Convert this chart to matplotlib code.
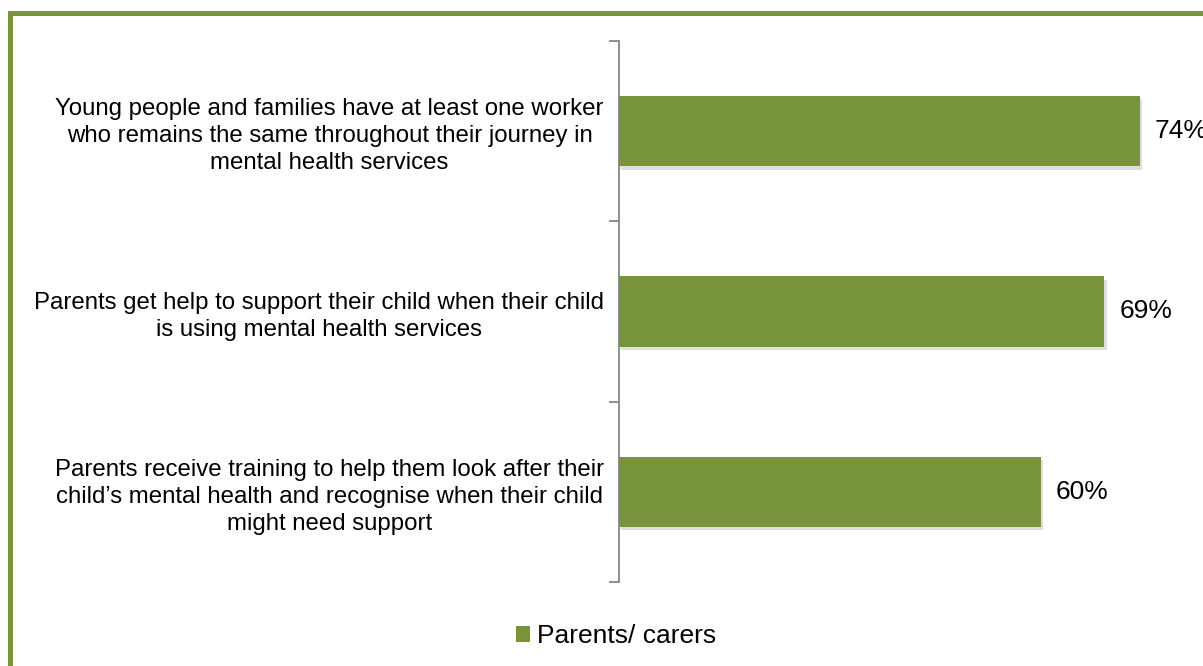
import matplotlib.pyplot as plt
import matplotlib.patheffects as pe
from matplotlib.patches import Rectangle

plt.rcParams['font.family'] = ['Liberation Sans', 'DejaVu Sans']

categories = [
    "Young people and families have at least one worker\nwho remains the same throughout their journey in\nmental health services",
    "Parents get help to support their child when their child\nis using mental health services",
    "Parents receive training to help them look after their\nchild\u2019s mental health and recognise when their child\nmight need support",
]
values = [74, 69, 60]
series_name = "Parents/ carers"

green = "#77933C"
fs = 17.3
fs_big = 19

fig = plt.figure(figsize=(12.03, 6.66), dpi=100)

# olive frame round the chart area (runs off the right and bottom edges)
fig.patches.append(Rectangle((9.5 / 1203, -0.05), 1.2, 1.05 - 13 / 666,
                             transform=fig.transFigure, fill=False,
                             edgecolor=green, linewidth=3.6))

ax = fig.add_axes([619 / 1203, 1 - 582 / 666, 1 - 619 / 1203, (582 - 41) / 666])

ypos = list(range(len(values)))[::-1]
bars = ax.barh(ypos, values, height=0.39, color=green, label=series_name,
               zorder=3)

for y, v in zip(ypos, values):
    ax.text(v + 2.1, y, f"{v}%", va='center', ha='left', fontsize=fs_big)

ax.set_xlim(0, 83)
ax.set_ylim(-0.5, len(values) - 0.5)
ax.set_yticks(ypos)
ax.set_yticklabels(categories, fontsize=fs, multialignment='center',
                   linespacing=1.3)
for lab in ax.get_yticklabels():
    lab.set_verticalalignment('center_baseline')
ax.set_yticks([-0.5, 0.5, 1.5, 2.5], minor=True)
ax.tick_params(axis='y', which='major', length=0, pad=11)
ax.tick_params(axis='y', which='minor', length=7, width=1.3, color='#868686')
ax.set_xticks([])
for s in ['top', 'right', 'bottom']:
    ax.spines[s].set_visible(False)
ax.spines['left'].set_color('#868686')
ax.spines['left'].set_linewidth(1.3)

fig.legend(handles=[bars], labels=[series_name], loc='center',
           bbox_to_anchor=(616 / 1203, 1 - 636 / 666), frameon=False,
           fontsize=fs_big, handlelength=0.55, handleheight=0.55,
           handletextpad=0.27)

# soft drop shadow under each bar, added after the legend so its key stays flat
for b in bars:
    b.set_path_effects([pe.SimplePatchShadow(offset=(1.5, -2.5), alpha=0.13,
                                             shadow_rgbFace='black'),
                        pe.Normal()])

fig.savefig("out.png", dpi=100)
